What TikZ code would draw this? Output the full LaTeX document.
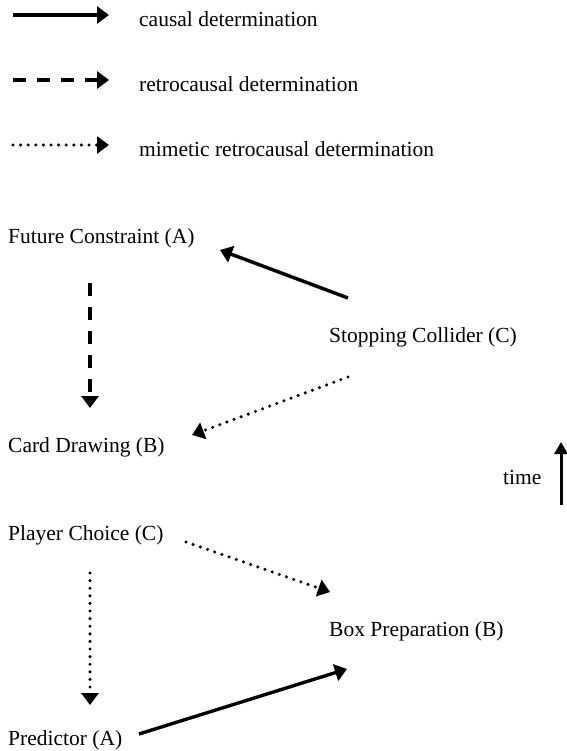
\documentclass[tikz,border=0pt]{standalone}
\usepackage{fontspec}
\setmainfont{Liberation Serif}
\usetikzlibrary{arrows.meta}
\begin{document}
\begin{tikzpicture}[x=1pt,y=-1pt,
  lbl/.style={anchor=base west, inner sep=0pt, font=\fontsize{21.5}{26}\selectfont},
  conn/.style={line width=3.4pt, -{Triangle[length=12pt,width=17pt]}},
  causal/.style={conn},
  retro/.style={conn, dash pattern=on 13pt off 11pt},
  mimetic/.style={conn, line cap=round, dash pattern=on 0pt off 7.6pt},
]
\useasboundingbox (0,0) rectangle (566,751);
% legend
\coordinate (l1s) at (13,15);  \coordinate (l1e) at (109,15);
\coordinate (l2s) at (13,80);  \coordinate (l2e) at (109,80);
\coordinate (l3s) at (13,145); \coordinate (l3e) at (109,145);
\draw[causal]  (l1s) -- (l1e);
\draw[retro]   (l2s) -- (l2e);
\draw[mimetic] (l3s) -- (l3e);
\node[lbl] (t1) at (139,27)  {causal determination};
\node[lbl] (t2) at (139,92)  {retrocausal determination};
\node[lbl] (t3) at (139,157) {mimetic retrocausal determination};
% nodes
\node[lbl] (fc) at (8,243)   {Future Constraint (A)};
\node[lbl] (sc) at (329,342) {Stopping Collider (C)};
\node[lbl] (cd) at (8,452)   {Card Drawing (B)};
\node[lbl] (pc) at (8,540)   {Player Choice (C)};
\node[lbl] (bp) at (329,636) {Box Preparation (B)};
\node[lbl] (pr) at (8,745)   {Predictor (A)};
\node[lbl] (tm) at (503,484) {time};
% connector ends
\coordinate (a1s) at (348,298); \coordinate (a1e) at (220,250);
\coordinate (a2s) at (90,283);  \coordinate (a2e) at (90,408);
\coordinate (a3s) at (348,377); \coordinate (a3e) at (192,435);
\coordinate (a4s) at (186,542); \coordinate (a4e) at (330,592);
\coordinate (a5s) at (90,573);  \coordinate (a5e) at (90,705);
\coordinate (a6s) at (139,734); \coordinate (a6e) at (347,669);
\coordinate (ts) at (561,505);  \coordinate (te) at (561,442);
\draw[causal]  (a1s) -- (a1e);
\draw[retro]   (a2s) -- (a2e);
\draw[mimetic] (a3s) -- (a3e);
\draw[mimetic] (a4s) -- (a4e);
\draw[mimetic] (a5s) -- (a5e);
\draw[causal]  (a6s) -- (a6e);
\draw[line width=3pt, -{Triangle[length=12pt,width=13pt]}] (ts) -- (te);
\end{tikzpicture}
\end{document}
